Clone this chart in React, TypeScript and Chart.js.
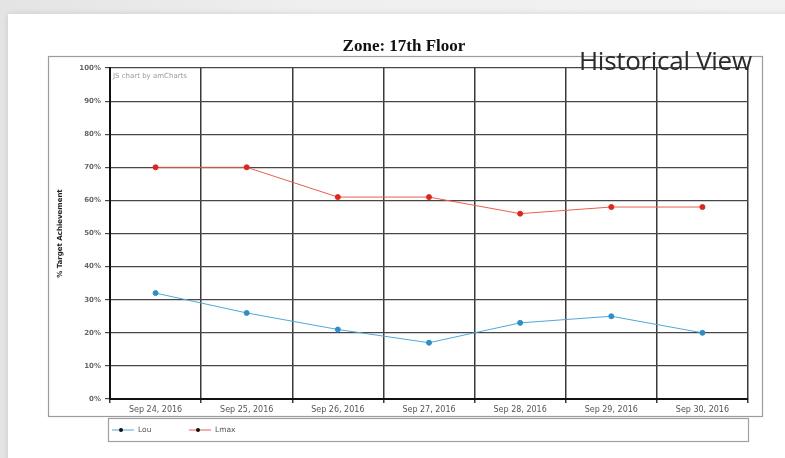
import React, { useEffect, useRef } from "react";
import { Chart, registerables } from "chart.js";

Chart.register(...registerables);

const categories = [
  "Sep 24, 2016",
  "Sep 25, 2016",
  "Sep 26, 2016",
  "Sep 27, 2016",
  "Sep 28, 2016",
  "Sep 29, 2016",
  "Sep 30, 2016",
];
const lowValues = [32, 26, 21, 17, 23, 25, 20];
const maxValues = [70, 70, 61, 61, 56, 58, 58];
const seriesLabels = ["Lou", "Lmax"];
const seriesLineColors = ["#4ea9d9", "#e8604e"];
const seriesPointColors = ["#2b8fcb", "#e3241a"];
const yTickValues = [0, 10, 20, 30, 40, 50, 60, 70, 80, 90, 100];
const chartTitle = "Zone: 17th Floor";
const yAxisTitle = "% Target Achievement";
const watermark = "JS chart by amCharts";
const headerText = "Historical View";

const decorPlugin = {
  id: "decor",
  beforeDraw(chart: any) {
    const ctx = chart.ctx;
    ctx.save();
    ctx.strokeStyle = "#9c9c9c";
    ctx.lineWidth = 1.2;
    ctx.strokeRect(48.5, 56.5, 714, 360);
    ctx.restore();
  },
  afterDraw(chart: any) {
    const ctx = chart.ctx;
    const area = chart.chartArea;
    ctx.save();
    // title
    ctx.fillStyle = "#111";
    ctx.font = "bold 17px 'Liberation Serif', serif";
    ctx.textAlign = "center";
    ctx.textBaseline = "middle";
    ctx.fillText(chartTitle, 404, 47);
    // watermark
    ctx.fillStyle = "#9a9a9a";
    ctx.font = "7px 'DejaVu Sans', sans-serif";
    ctx.textAlign = "left";
    ctx.fillText(watermark, area.left + 3, area.top + 8);
    // legend
    ctx.strokeStyle = "#a0a0a0";
    ctx.lineWidth = 1.2;
    ctx.strokeRect(108.5, 418.5, 640, 23);
    chart.data.datasets.forEach((ds: any, i: number) => {
      const x0 = 112 + i * 77;
      const y = 430;
      ctx.strokeStyle = ds.borderColor;
      ctx.lineWidth = 1;
      ctx.beginPath();
      ctx.moveTo(x0, y);
      ctx.lineTo(x0 + 22, y);
      ctx.stroke();
      ctx.fillStyle = "#111";
      ctx.beginPath();
      ctx.arc(x0 + 9, y, 2, 0, Math.PI * 2);
      ctx.fill();
      ctx.fillStyle = "#555";
      ctx.font = "7.5px 'DejaVu Sans', sans-serif";
      ctx.textAlign = "left";
      ctx.textBaseline = "middle";
      ctx.fillText(ds.label, x0 + 26, y);
    });
    ctx.restore();
  },
};

export default function App() {
  const ref = useRef<HTMLCanvasElement | null>(null);

  useEffect(() => {
    if (!ref.current) return;
    const chart = new Chart(ref.current, {
      type: "line",
      data: {
        labels: categories,
        datasets: [lowValues, maxValues].map((vals, i) => ({
          label: seriesLabels[i],
          data: vals,
          borderColor: seriesLineColors[i],
          backgroundColor: seriesPointColors[i],
          pointBackgroundColor: seriesPointColors[i],
          pointBorderColor: seriesPointColors[i],
          pointRadius: 2.5,
          borderWidth: 1,
          tension: 0,
          fill: false,
        })),
      },
      options: {
        animation: false,
        responsive: false,
        devicePixelRatio: 1,
        layout: { padding: { left: 52, right: 37, top: 68, bottom: 39 } },
        plugins: {
          legend: { display: false },
          title: { display: false },
          tooltip: { enabled: false },
        },
        scales: {
          x: {
            type: "category",
            offset: true,
            afterFit: (s: any) => {
              s.height = 20;
            },
            grid: {
              offset: true,
              color: "#3a3a3a",
              lineWidth: 1.5,
              tickLength: 4,
            },
            border: { color: "#111", width: 2 },
            ticks: {
              color: "#555",
              font: { family: "'DejaVu Sans', sans-serif", size: 8 },
              maxRotation: 0,
              autoSkip: false,
              padding: 2,
            },
          },
          y: {
            min: 0,
            max: 100,
            afterFit: (s: any) => {
              s.width = 58;
            },
            afterBuildTicks: (s: any) => {
              s.ticks = yTickValues.map((v) => ({ value: v }));
            },
            grid: { color: "#474747", lineWidth: 1.2, tickLength: 5 },
            border: { color: "#111", width: 2 },
            ticks: {
              color: "#666",
              font: { family: "'DejaVu Sans', sans-serif", size: 7, weight: "bold" },
              padding: 4,
              callback: (v: any) => v + "%",
            },
            title: {
              display: true,
              text: yAxisTitle,
              color: "#222",
              font: { family: "'DejaVu Sans', sans-serif", size: 7, weight: "bold" },
              padding: { top: 4, bottom: 0 },
            },
          },
        },
      } as any,
      plugins: [decorPlugin],
    });
    return () => chart.destroy();
  }, []);

  return (
    <div
      style={{
        position: "absolute",
        left: 0,
        top: 0,
        width: 785,
        height: 458,
        overflow: "hidden",
        background: "linear-gradient(to right, #e4e4e4, #efefef 40%, #f2f2f2)",
      }}
    >
      <div
        style={{
          position: "absolute",
          left: 8,
          top: 14,
          width: 790,
          height: 460,
          background: "#fff",
          boxShadow: "0 0 6px rgba(0,0,0,0.12)",
        }}
      />
      <canvas
        ref={ref}
        width={785}
        height={458}
        style={{ position: "absolute", left: 0, top: 0, width: 785, height: 458 }}
      />
      <div
        style={{
          position: "absolute",
          left: 579,
          top: 45,
          fontFamily: "'Open Sans', sans-serif",
          fontSize: 26,
          fontWeight: 400,
          color: "#2a2a2a",
          lineHeight: "30px",
          whiteSpace: "nowrap",
          letterSpacing: -0.3,
        }}
      >
        {headerText}
      </div>
    </div>
  );
}
